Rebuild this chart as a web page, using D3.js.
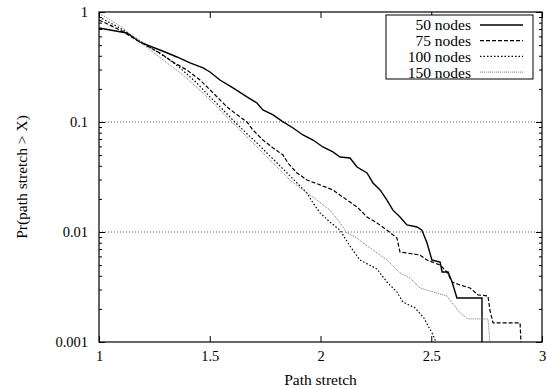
<!DOCTYPE html>
<html>
<head>
<meta charset="utf-8">
<script src="https://cdn.jsdelivr.net/npm/d3@7"></script>
<style>
  body { margin: 0; background: #fff; }
  svg { display: block; }
</style>
</head>
<body>
<svg id="chart" width="547" height="388"></svg>
<script>
// Axis ticks and labels
const xTicks = [1, 1.5, 2, 2.5, 3];
const yTicks = [1, 0.1, 0.01, 0.001];
const yTickLabels = ["1", "0.1", "0.01", "0.001"];
const gridValues = [0.1, 0.01];
const seriesNames = ["50 nodes", "75 nodes", "100 nodes", "150 nodes"];

// CCDF of path stretch: [stretch, Pr(path stretch > X)]
const nodes50 = [
  [1.000, 0.715], [1.126, 0.644], [1.185, 0.533], [1.298, 0.433], [1.352, 0.390],
  [1.411, 0.344], [1.470, 0.310], [1.501, 0.285], [1.546, 0.241], [1.605, 0.204],
  [1.668, 0.169], [1.713, 0.149], [1.740, 0.129], [1.786, 0.116], [1.826, 0.102],
  [1.876, 0.0882], [1.921, 0.0762], [1.966, 0.0686], [2.011, 0.0593], [2.056, 0.0534],
  [2.088, 0.0481], [2.133, 0.0471], [2.165, 0.039], [2.210, 0.0344], [2.237, 0.0279],
  [2.269, 0.0241], [2.300, 0.0195], [2.327, 0.0158], [2.359, 0.0137], [2.390, 0.0116],
  [2.436, 0.0111], [2.458, 0.0104], [2.481, 0.00794], [2.503, 0.00556], [2.540, 0.00534],
  [2.549, 0.00433], [2.576, 0.00433], [2.594, 0.00351], [2.616, 0.00251], [2.729, 0.00251],
  [2.729, 0.001]
];
const nodes75 = [
  [1.000, 0.846], [1.095, 0.686], [1.185, 0.533], [1.275, 0.424], [1.334, 0.351],
  [1.397, 0.297], [1.456, 0.241], [1.515, 0.184], [1.578, 0.137], [1.637, 0.111],
  [1.668, 0.100], [1.695, 0.0846], [1.740, 0.0686], [1.786, 0.0580], [1.831, 0.0501],
  [1.853, 0.0424], [1.894, 0.0344], [1.939, 0.0297], [1.998, 0.0268], [2.056, 0.0241],
  [2.120, 0.0195], [2.165, 0.0169], [2.210, 0.0137], [2.255, 0.0121], [2.300, 0.0104],
  [2.345, 0.00882], [2.359, 0.00658], [2.390, 0.00644], [2.449, 0.00618], [2.481, 0.00556],
  [2.540, 0.00501], [2.571, 0.00433], [2.594, 0.00351], [2.630, 0.0033], [2.675, 0.0031],
  [2.711, 0.00268], [2.756, 0.00262], [2.765, 0.00195], [2.779, 0.00149], [2.901, 0.00149],
  [2.905, 0.001]
];
const nodes100 = [
  [1.000, 0.901], [1.095, 0.715], [1.185, 0.545], [1.307, 0.382], [1.366, 0.310],
  [1.442, 0.226], [1.501, 0.169], [1.560, 0.129], [1.605, 0.104], [1.650, 0.0846],
  [1.713, 0.0645], [1.758, 0.0523], [1.804, 0.0424], [1.849, 0.0344], [1.894, 0.0279],
  [1.939, 0.0226], [1.966, 0.0184], [1.998, 0.0149], [2.043, 0.0123], [2.088, 0.0104],
  [2.133, 0.00746], [2.178, 0.00556], [2.255, 0.00461], [2.300, 0.00351], [2.345, 0.00285],
  [2.372, 0.00231], [2.427, 0.00204], [2.467, 0.00165], [2.508, 0.00116], [2.521, 0.001]
];
const nodes150 = [
  [1.000, 0.979], [1.095, 0.746], [1.185, 0.533], [1.307, 0.344], [1.379, 0.268],
  [1.456, 0.195], [1.533, 0.137], [1.591, 0.104], [1.668, 0.0731], [1.740, 0.0523],
  [1.804, 0.039], [1.862, 0.0297], [1.921, 0.0241], [1.984, 0.0195], [2.043, 0.0158],
  [2.088, 0.0121], [2.120, 0.0098], [2.165, 0.00882], [2.192, 0.00794], [2.237, 0.00686],
  [2.300, 0.00556], [2.359, 0.00424], [2.404, 0.00382], [2.449, 0.0031], [2.508, 0.00285],
  [2.571, 0.00262], [2.594, 0.00226], [2.630, 0.00184], [2.666, 0.00162], [2.756, 0.00162],
  [2.765, 0.001]
];

const series = [
  { name: seriesNames[0], values: nodes50,  color: "#000", width: 1.4, dash: null },
  { name: seriesNames[1], values: nodes75,  color: "#000", width: 1.2, dash: "4,2" },
  { name: seriesNames[2], values: nodes100, color: "#000", width: 1.2, dash: "1.5,2" },
  { name: seriesNames[3], values: nodes150, color: "#777", width: 1.0, dash: "1,1" }
];

const FONT = "'Liberation Serif', 'Times New Roman', Times, serif";
const TICK_SIZE = 14.5;
const LABEL_SIZE = 15.5;

const svg = d3.select("#chart");
const plot = { left: 99, right: 542, top: 12, bottom: 342 };

const x = d3.scaleLinear().domain([1, 3]).range([plot.left, plot.right]);
const y = d3.scaleLog().domain([0.001, 1]).range([plot.bottom, plot.top]);

const minorY = [];
for (let e = -3; e < 0; e++) {
  for (let m = 2; m <= 9; m++) minorY.push(m * Math.pow(10, e));
}

// Horizontal dotted grid lines
svg.append("g").selectAll("line").data(gridValues).join("line")
  .attr("x1", plot.left).attr("x2", plot.right)
  .attr("y1", d => y(d)).attr("y2", d => y(d))
  .attr("stroke", "#555").attr("stroke-width", 1)
  .attr("stroke-dasharray", "1,2");

// Clip region for the curves
svg.append("clipPath").attr("id", "plot-clip")
  .append("rect")
  .attr("x", plot.left).attr("y", plot.top)
  .attr("width", plot.right - plot.left).attr("height", plot.bottom - plot.top);

const line = d3.line().x(d => x(d[0])).y(d => y(d[1]));

svg.append("g").attr("clip-path", "url(#plot-clip)")
  .selectAll("path").data(series).join("path")
  .attr("d", d => line(d.values))
  .attr("fill", "none")
  .attr("stroke", d => d.color)
  .attr("stroke-width", d => d.width)
  .attr("stroke-dasharray", d => d.dash);

// Axes: major and minor ticks on all four sides, pointing inward
function styleAxis(g) {
  g.attr("font-family", FONT).attr("font-size", TICK_SIZE);
  g.select(".domain").remove();
  g.selectAll(".tick line").attr("stroke", "#000").attr("stroke-width", 1);
  g.selectAll(".tick text").attr("fill", "#000").attr("font-family", FONT);
}

svg.append("g").attr("transform", `translate(${plot.left},0)`)
  .call(d3.axisLeft(y).tickValues(yTicks).tickSize(-6).tickPadding(12)
    .tickFormat((d, i) => yTickLabels[i]))
  .call(styleAxis)
  .call(g => g.selectAll("text").attr("x", -11));

svg.append("g").attr("transform", `translate(${plot.left},0)`)
  .call(d3.axisLeft(y).tickValues(minorY).tickSize(-3).tickFormat(""))
  .call(styleAxis);

svg.append("g").attr("transform", `translate(${plot.right},0)`)
  .call(d3.axisRight(y).tickValues(yTicks).tickSize(-6).tickFormat(""))
  .call(styleAxis);

svg.append("g").attr("transform", `translate(${plot.right},0)`)
  .call(d3.axisRight(y).tickValues(minorY).tickSize(-3).tickFormat(""))
  .call(styleAxis);

svg.append("g").attr("transform", `translate(0,${plot.bottom})`)
  .call(d3.axisBottom(x).tickValues(xTicks).tickSize(-6).tickPadding(12)
    .tickFormat(d3.format("")))
  .call(styleAxis)
  .call(g => g.selectAll("text").attr("y", 9));

svg.append("g").attr("transform", `translate(0,${plot.top})`)
  .call(d3.axisTop(x).tickValues(xTicks).tickSize(-6).tickFormat(""))
  .call(styleAxis);

// Plot border
svg.append("rect")
  .attr("x", plot.left).attr("y", plot.top)
  .attr("width", plot.right - plot.left).attr("height", plot.bottom - plot.top)
  .attr("fill", "none").attr("stroke", "#000").attr("stroke-width", 1.2);

// Axis titles
svg.append("text")
  .attr("x", (plot.left + plot.right) / 2).attr("y", 385)
  .attr("text-anchor", "middle")
  .attr("font-family", FONT).attr("font-size", LABEL_SIZE)
  .text("Path stretch");

svg.append("text")
  .attr("transform", `translate(27,${(plot.top + plot.bottom) / 2}) rotate(-90)`)
  .attr("text-anchor", "middle")
  .attr("font-family", FONT).attr("font-size", LABEL_SIZE)
  .text("Pr(path stretch > X)");

// Legend
const legend = { x: 386, y: 15, w: 147, h: 64, row: 15.7 };
const lg = svg.append("g");
lg.append("rect")
  .attr("x", legend.x).attr("y", legend.y)
  .attr("width", legend.w).attr("height", legend.h)
  .attr("fill", "#fff").attr("stroke", "#000").attr("stroke-width", 1);

const rows = lg.selectAll("g.row").data(series).join("g")
  .attr("class", "row")
  .attr("transform", (d, i) => `translate(0,${legend.y + 10 + i * legend.row})`);

rows.append("text")
  .attr("x", 471).attr("y", 0).attr("dy", "0.35em")
  .attr("text-anchor", "end")
  .attr("font-family", FONT).attr("font-size", LABEL_SIZE)
  .text(d => d.name);

rows.append("line")
  .attr("x1", 480).attr("x2", 523).attr("y1", 0).attr("y2", 0)
  .attr("stroke", d => d.color)
  .attr("stroke-width", d => d.width)
  .attr("stroke-dasharray", d => d.dash);
</script>
</body>
</html>
